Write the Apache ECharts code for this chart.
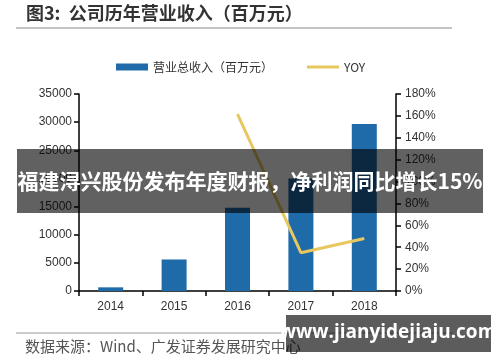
<!DOCTYPE html>
<html>
<head>
<meta charset="utf-8">
<script src="https://cdn.jsdelivr.net/npm/echarts@6/dist/echarts.min.js"></script>
<style>html,body{margin:0;padding:0;background:#fff;}#c{width:500px;height:362px;}</style>
</head>
<body>
<div id="c"></div>
<script>
var categories = ['2014', '2015', '2016', '2017', '2018'];
var revenue = [650, 5600, 14800, 20000, 29650];
var yoy = [null, null, 161.5, 35, 48];
var revenueName = '营业总收入（百万元）';
var yoyName = 'YOY';

var chart = echarts.init(document.getElementById('c'), null, {renderer: 'canvas'});
var axisFont = {color: '#333', fontSize: 12, fontFamily: 'Liberation Sans, Arial, sans-serif'};
chart.setOption({
  animation: false,
  backgroundColor: '#fff',
  grid: {left: 79, right: 104, top: 94, bottom: 71},
  legend: {
    left: 111, top: 56, itemGap: 34, itemWidth: 32, itemHeight: 7,
    textStyle: {color: '#333', fontSize: 12, fontFamily: 'Noto Sans CJK SC, sans-serif'},
    data: [
      {name: revenueName, icon: 'rect'},
      {name: yoyName, icon: 'path://M0,0 L32,0 L32,3 L0,3 Z'}
    ]
  },
  xAxis: {
    type: 'category', data: categories,
    axisLine: {lineStyle: {color: '#000', width: 1.5}},
    axisTick: {show: true, length: 5, lineStyle: {color: '#000', width: 1.5}},
    axisLabel: Object.assign({margin: 10}, axisFont)
  },
  yAxis: [{
    type: 'value', min: 0, max: 35000, interval: 5000,
    axisLine: {show: true, lineStyle: {color: '#000', width: 1.5}},
    axisTick: {show: true, length: 5, lineStyle: {color: '#000', width: 1.5}},
    splitLine: {show: false},
    axisLabel: Object.assign({margin: 7, formatter: function (v) { return String(v); }}, axisFont)
  }, {
    type: 'value', min: 0, max: 180, interval: 20, position: 'right',
    axisLine: {show: true, lineStyle: {color: '#000', width: 1.5}},
    axisTick: {show: true, length: 5, lineStyle: {color: '#000', width: 1.5}},
    splitLine: {show: false},
    axisLabel: Object.assign({margin: 9, formatter: '{value}%'}, axisFont)
  }],
  series: [{
    name: revenueName, type: 'bar', data: revenue, barWidth: 25,
    itemStyle: {color: '#1f6aa8'}
  }, {
    name: yoyName, type: 'line', yAxisIndex: 1, data: yoy,
    symbol: 'none', connectNulls: false,
    lineStyle: {color: '#e8c75e', width: 3},
    itemStyle: {color: '#e8c75e'}
  }],
  graphic: [
    {type: 'text', left: 26, top: 4, style: {text: '图3:  公司历年营业收入（百万元）', fill: '#333', font: 'bold 18px "Noto Sans CJK SC", sans-serif'}},
    {type: 'line', shape: {x1: 16, y1: 28, x2: 452, y2: 28}, style: {stroke: '#888', lineWidth: 1.2}},
    {type: 'line', shape: {x1: 16, y1: 333, x2: 452, y2: 333}, style: {stroke: '#999', lineWidth: 1}},
    {type: 'text', left: 25, top: 339, style: {text: '数据来源：Wind、广发证券发展研究中心', fill: '#555', font: '15px "Noto Sans CJK SC", sans-serif'}},
    {type: 'rect', z: 100, shape: {x: 17, y: 149, width: 466, height: 64}, style: {fill: 'rgba(0,0,0,0.62)'}},
    {type: 'text', z: 101, x: 250, y: 181, style: {text: '福建浔兴股份发布年度财报，净利润同比增长15%', fill: '#fff', align: 'center', verticalAlign: 'middle', font: 'bold 21px "Noto Sans CJK SC", sans-serif'}},
    {type: 'rect', z: 100, shape: {x: 286, y: 315, width: 205, height: 37}, style: {fill: 'rgba(0,0,0,0.64)'}},
    {type: 'text', z: 101, x: 388, y: 333, style: {text: 'www.jianyidejiaju.com', fill: '#fff', align: 'center', verticalAlign: 'middle', font: 'bold 19px "Open Sans", "Noto Sans", sans-serif'}}
  ]
});
</script>
</body>
</html>
